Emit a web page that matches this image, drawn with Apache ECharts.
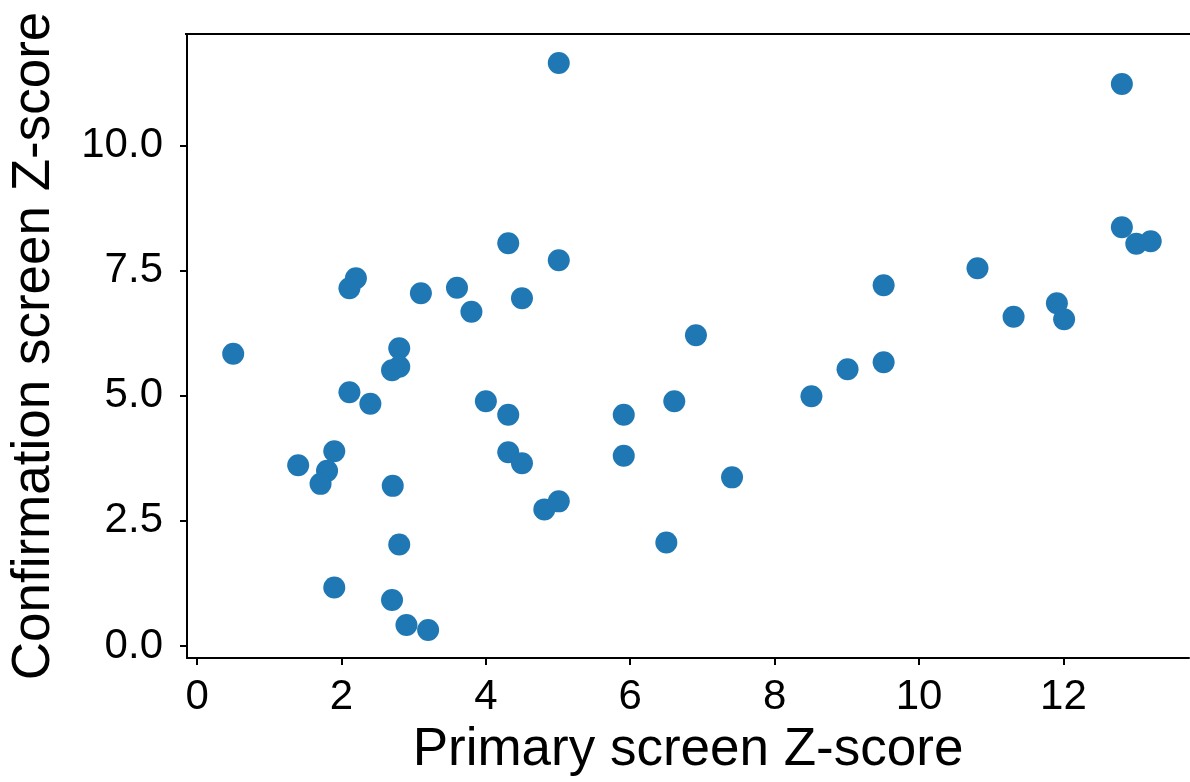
<!DOCTYPE html>
<html>
<head>
<meta charset="utf-8">
<script src="https://cdn.jsdelivr.net/npm/echarts@6/dist/echarts.min.js"></script>
<style>
  html, body { margin: 0; padding: 0; background: #fff; }
  #chart { width: 1190px; height: 782px; }
</style>
</head>
<body>
<div id="chart"></div>
<script>
// primary screen Z-score (x) and confirmation screen Z-score (y), one entry per hit
var primaryZ = [
  0.50, 5.01, 12.81, 4.31, 5.01, 2.20, 2.11, 3.10, 3.60, 4.50,
  3.80, 2.80, 2.80, 2.70, 2.11, 2.40, 4.00, 4.31, 1.90, 1.40,
  1.80, 1.71, 2.71, 4.31, 4.50, 4.81, 5.01, 2.80, 1.90, 2.70,
  2.90, 3.20, 5.91, 5.91, 6.61, 6.91, 6.50, 7.41, 8.51, 9.01,
  9.51, 9.51, 10.81, 11.31, 11.91, 12.01, 12.81, 13.01, 13.21
];
var confirmZ = [
  5.84, 11.65, 11.23, 8.05, 7.71, 7.35, 7.15, 7.05, 7.16, 6.95,
  6.68, 5.95, 5.58, 5.51, 5.07, 4.84, 4.89, 4.62, 3.89, 3.61,
  3.50, 3.24, 3.20, 3.87, 3.65, 2.73, 2.89, 2.03, 1.17, 0.92,
  0.42, 0.32, 4.62, 3.80, 4.89, 6.21, 2.07, 3.37, 4.99, 5.53,
  5.67, 7.21, 7.55, 6.58, 6.85, 6.53, 8.37, 8.04, 8.09
];
var xTicks = [0, 2, 4, 6, 8, 10, 12];
var yTicks = [0, 2.5, 5, 7.5, 10];

var points = primaryZ.map(function (x, i) { return [x, confirmZ[i]]; });

var font = '"Liberation Sans", Arial, Helvetica, sans-serif';
var chart = echarts.init(document.getElementById('chart'));
chart.setOption({
  animation: false,
  grid: { left: 185, right: 1, top: 34, bottom: 124 },
  xAxis: {
    type: 'value',
    min: -0.14,
    max: 13.74,
    name: 'Primary screen Z-score',
    nameLocation: 'middle',
    nameGap: 66,
    nameTextStyle: { fontFamily: font, fontSize: 53, color: '#000' },
    axisLine: { show: true, onZero: false, lineStyle: { color: '#000', width: 2 } },
    axisTick: { show: true, length: 7, lineStyle: { color: '#000', width: 2 }, customValues: xTicks },
    axisLabel: { fontFamily: font, fontSize: 42, color: '#000', margin: 18, customValues: xTicks,
      formatter: function (v) { return String(v); } },
    splitLine: { show: false }
  },
  yAxis: {
    type: 'value',
    min: -0.24,
    max: 12.23,
    name: 'Confirmation screen Z-score',
    nameLocation: 'middle',
    nameGap: 126,
    nameTextStyle: { fontFamily: font, fontSize: 53, color: '#000' },
    axisLine: { show: true, onZero: false, lineStyle: { color: '#000', width: 2 } },
    axisTick: { show: true, length: 7, lineStyle: { color: '#000', width: 2 }, customValues: yTicks },
    axisLabel: { fontFamily: font, fontSize: 42, color: '#000', margin: 24, customValues: yTicks,
      formatter: function (v) { return v.toFixed(1); } },
    splitLine: { show: false }
  },
  graphic: [
    { type: 'line', shape: { x1: 185, y1: 34, x2: 1190, y2: 34 }, style: { stroke: '#000', lineWidth: 2 } }
  ],
  series: [{
    type: 'scatter',
    data: points,
    symbolSize: 22,
    itemStyle: { color: '#1f77b4', opacity: 1 }
  }]
});
</script>
</body>
</html>
